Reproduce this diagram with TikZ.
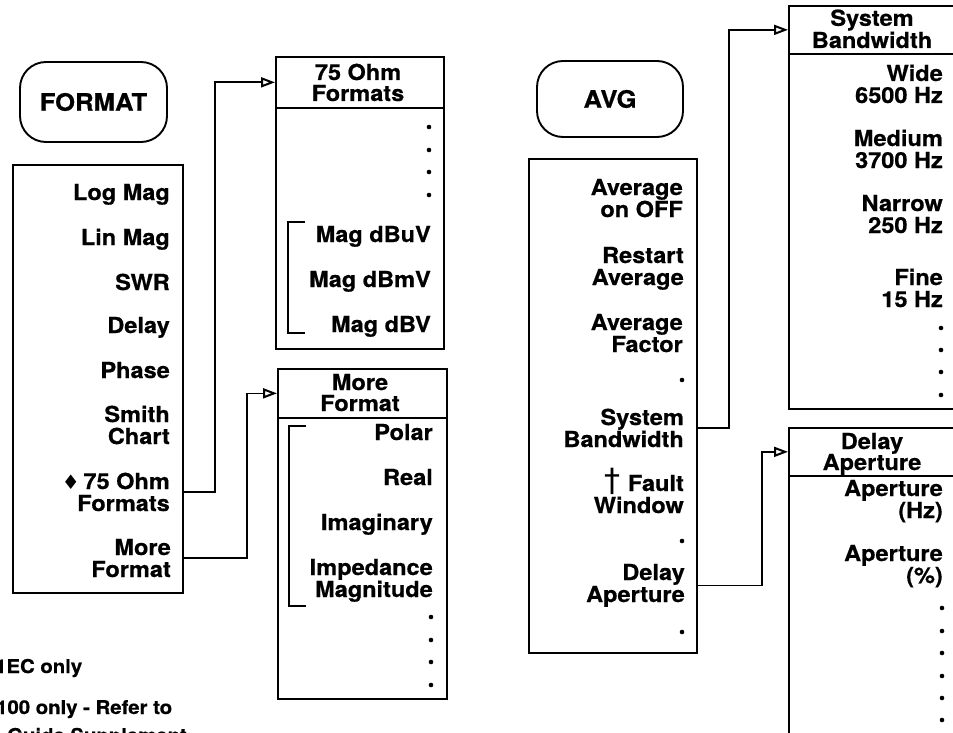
\documentclass[tikz,border=0pt]{standalone}
\usepackage{fontspec}
\newfontfamily\hv{TeX Gyre Heros}[FakeStretch=1.07,FakeBold=0.6]
\newfontfamily\dv{DejaVu Sans}
\usetikzlibrary{arrows.meta,calc}
\begin{document}
\begin{tikzpicture}[x=1pt,y=-1pt,
  itemtext/.style={font=\hv\bfseries\fontsize{22}{22}\selectfont, align=right, anchor=base east, inner sep=0pt},
  headtext/.style={font=\hv\bfseries\fontsize{22}{21}\selectfont, align=center, anchor=base, inner sep=0pt},
  keybox/.style={draw, line width=1.9pt, rounded corners=26pt, font=\hv\bfseries\fontsize{24}{24}\selectfont, inner sep=0pt},
  menubox/.style={draw, line width=1.7pt, anchor=north west, inner sep=0pt},
  conn/.style={line width=1.7pt, -{Triangle[open, length=14pt, width=10pt, line width=2pt]}},
  brk/.style={line width=1.6pt},
  fnote/.style={font=\hv\bfseries\fontsize{19}{19}\selectfont, anchor=base west, inner sep=0pt},
  softdot/.style={fill=black}
]
\useasboundingbox (0,0) rectangle (953,733);
\clip (0,0) rectangle (953,733);

% ---------------- FORMAT ----------------
\node[keybox, minimum width=147pt, minimum height=80pt] (format) at (93.5,102) {FORMAT};
\node[menubox, minimum width=170pt, minimum height=428pt] (fmenu) at (12,164) {};
\node[itemtext] (f1) at (170,200) {Log Mag};
\node[itemtext] (f2) at (170,245) {Lin Mag};
\node[itemtext] (f3) at (170,290) {SWR};
\node[itemtext] (f4) at (170,333) {Delay};
\node[itemtext] (f5) at (170,378) {Phase};
\node[itemtext] (f6) at (170,444) {Smith\\Chart};
\node[itemtext] (f7) at (170,511) {{\dv\mdseries\fontsize{20}{20}\selectfont ♦}\,75 Ohm\\Formats};
\node[itemtext] (f8) at (171,577) {More\\Format};

% 75 Ohm Formats menu
\node[menubox, minimum width=168pt, minimum height=51pt] (ohmh) at (275,56) {};
\node[menubox, minimum width=168pt, minimum height=241pt] (ohmb) at (275,107) {};
\node[headtext] (ohmt) at (358,101) {75 Ohm\\Formats};
\foreach \yy in {127,150,172,195} \fill[softdot] (429,\yy) circle (2.3pt);
\node[itemtext] (o1) at (431,242) {Mag dBuV};
\node[itemtext] (o2) at (431,287) {Mag dBmV};
\node[itemtext] (o3) at (431,332) {Mag dBV};
\draw[brk] (305,222) -- (288,222) -- (288,333) -- (305,333);

% More Format menu
\node[menubox, minimum width=169pt, minimum height=49pt] (moreh) at (277,368) {};
\node[menubox, minimum width=169pt, minimum height=281pt] (moreb) at (277,417) {};
\node[headtext] (moret) at (360,411) {More\\Format};
\node[itemtext] (m1) at (433,440) {Polar};
\node[itemtext] (m2) at (433,485) {Real};
\node[itemtext] (m3) at (433,530) {Imaginary};
\node[itemtext] (m4) at (433,597) {Impedance\\Magnitude};
\foreach \yy in {617,640,662,685} \fill[softdot] (431,\yy) circle (2.3pt);
\draw[brk] (306,426) -- (289,426) -- (289,606) -- (306,606);

\draw[conn] (fmenu.east |- f7) -- ++(31,0) |- (ohmh.west);
\draw[conn] (fmenu.east |- f8) -- ++(63,0) |- (moreh.west);

% ---------------- AVG ----------------
\node[keybox, minimum width=146pt, minimum height=76pt] (avg) at (610,99) {AVG};
\node[menubox, minimum width=168pt, minimum height=494pt] (amenu) at (528,158) {};
\node[itemtext] (a1) at (683,217) {Average\\on OFF};
\node[itemtext] (a2) at (684,285) {Restart\\Average};
\node[itemtext] (a3) at (683,352) {Average\\Factor};
\fill[softdot] (682,380) circle (2.3pt);
\node[itemtext] (a5) at (684,447) {System\\Bandwidth};
\node[itemtext] (a6) at (684,513) {{\dv\mdseries\fontsize{32}{22}\selectfont †}\,\,Fault\\Window};
\fill[softdot] (682,541) circle (2.3pt);
\node[itemtext] (a7) at (685,602) {Delay\\Aperture};
\fill[softdot] (682,632) circle (2.3pt);

% System Bandwidth menu
\node[menubox, minimum width=168pt, minimum height=48pt] (sysh) at (788,5) {};
\node[menubox, minimum width=168pt, minimum height=355pt] (sysb) at (788,53) {};
\node[headtext] (syst) at (872,48) {System\\Bandwidth};
\node[itemtext] (s1) at (943,103) {Wide\\6500 Hz};
\node[itemtext] (s2) at (943,168) {Medium\\3700 Hz};
\node[itemtext] (s3) at (943,233) {Narrow\\250 Hz};
\node[itemtext] (s4) at (943,307) {Fine\\15 Hz};
\foreach \yy in {328,350,372,395} \fill[softdot] (941,\yy) circle (2.3pt);

% Delay Aperture menu
\node[menubox, minimum width=168pt, minimum height=48pt] (delh) at (788,427) {};
\node[menubox, minimum width=168pt, minimum height=330pt] (delb) at (788,475) {};
\node[headtext] (delt) at (872,470) {Delay\\Aperture};
\node[itemtext] (d1) at (943,518) {Aperture\\(Hz)};
\node[itemtext] (d2) at (943,583) {Aperture\\(\%)};
\foreach \yy in {608,631,653,676,698,720} \fill[softdot] (942,\yy) circle (2.3pt);

\draw[conn] (amenu.east |- a5) -- ++(31,0) |- (sysh.west);
\draw[conn] (amenu.east |- a7) -- ++(64,0) |- (delh.west);

% footnotes (cut by the frame)
\node[fnote] (fn1) at (-5,673) {1EC only};
\node[fnote] (fn2) at (-4,714) {100 only - Refer to};
\node[fnote] (fn3) at (7,742) {Guide Supplement};
\end{tikzpicture}
\end{document}
